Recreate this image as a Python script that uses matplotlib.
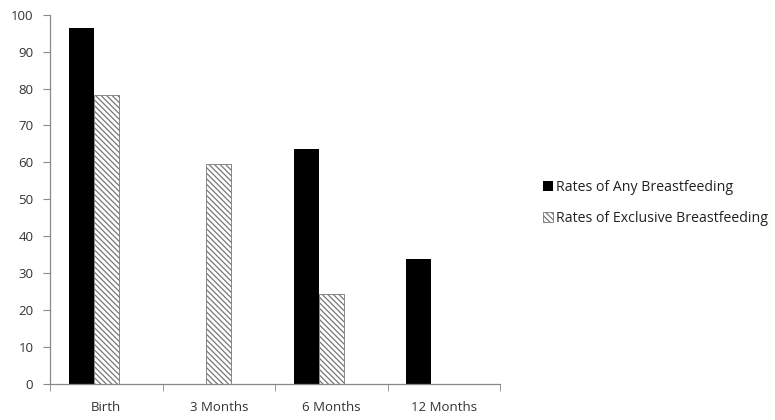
import numpy as np
import matplotlib.pyplot as plt

categories = ['Birth', '3 Months', '6 Months', '12 Months']
any_bf = [96.5, np.nan, 63.7, 33.8]
exclusive_bf = [78.3, 59.7, 24.5, np.nan]

plt.rcParams['font.family'] = ['Open Sans', 'DejaVu Sans']
plt.rcParams['hatch.linewidth'] = 0.9
plt.rcParams['hatch.color'] = '#2a2a2a'

fig = plt.figure(figsize=(7.75, 4.2), dpi=100)
ax = fig.add_axes([50 / 775, 1 - 384 / 420, 450 / 775, (384 - 14.7) / 420])

x = np.arange(len(categories))
w = 0.222
ax.bar(x - w, any_bf, w, color='black', label='Rates of Any Breastfeeding')
ax.bar(x, exclusive_bf, w, color='white', edgecolor='#777777', linewidth=0.6,
       hatch='\\\\\\\\\\\\', label='Rates of Exclusive Breastfeeding')

ax.set_xlim(-0.5, len(categories) - 0.5)
ax.set_ylim(0, 100)
ax.set_yticks(np.arange(0, 101, 10))
ax.set_xticks(x)
ax.set_xticklabels(categories)
ax.set_xticks(np.arange(-0.5, len(categories)), minor=True)
ax.tick_params(axis='x', which='major', length=0, pad=12)
ax.tick_params(axis='x', which='minor', length=5, color='#888888', direction='out')
ax.tick_params(axis='y', length=5, color='#888888', direction='out', pad=7)
ax.tick_params(labelsize=9.5, labelcolor='#333333')

for s in ['top', 'right']:
    ax.spines[s].set_visible(False)
for s in ['left', 'bottom']:
    ax.spines[s].set_color('#888888')
    ax.spines[s].set_linewidth(0.9)

fig.legend(loc='upper left', bbox_to_anchor=(530 / 775, 1 - 167 / 420),
           frameon=False, fontsize=10.2, handlelength=0.7, handleheight=0.7,
           handletextpad=0.25, labelspacing=1.15, labelcolor='#222222')

fig.savefig('out.png', dpi=100)
